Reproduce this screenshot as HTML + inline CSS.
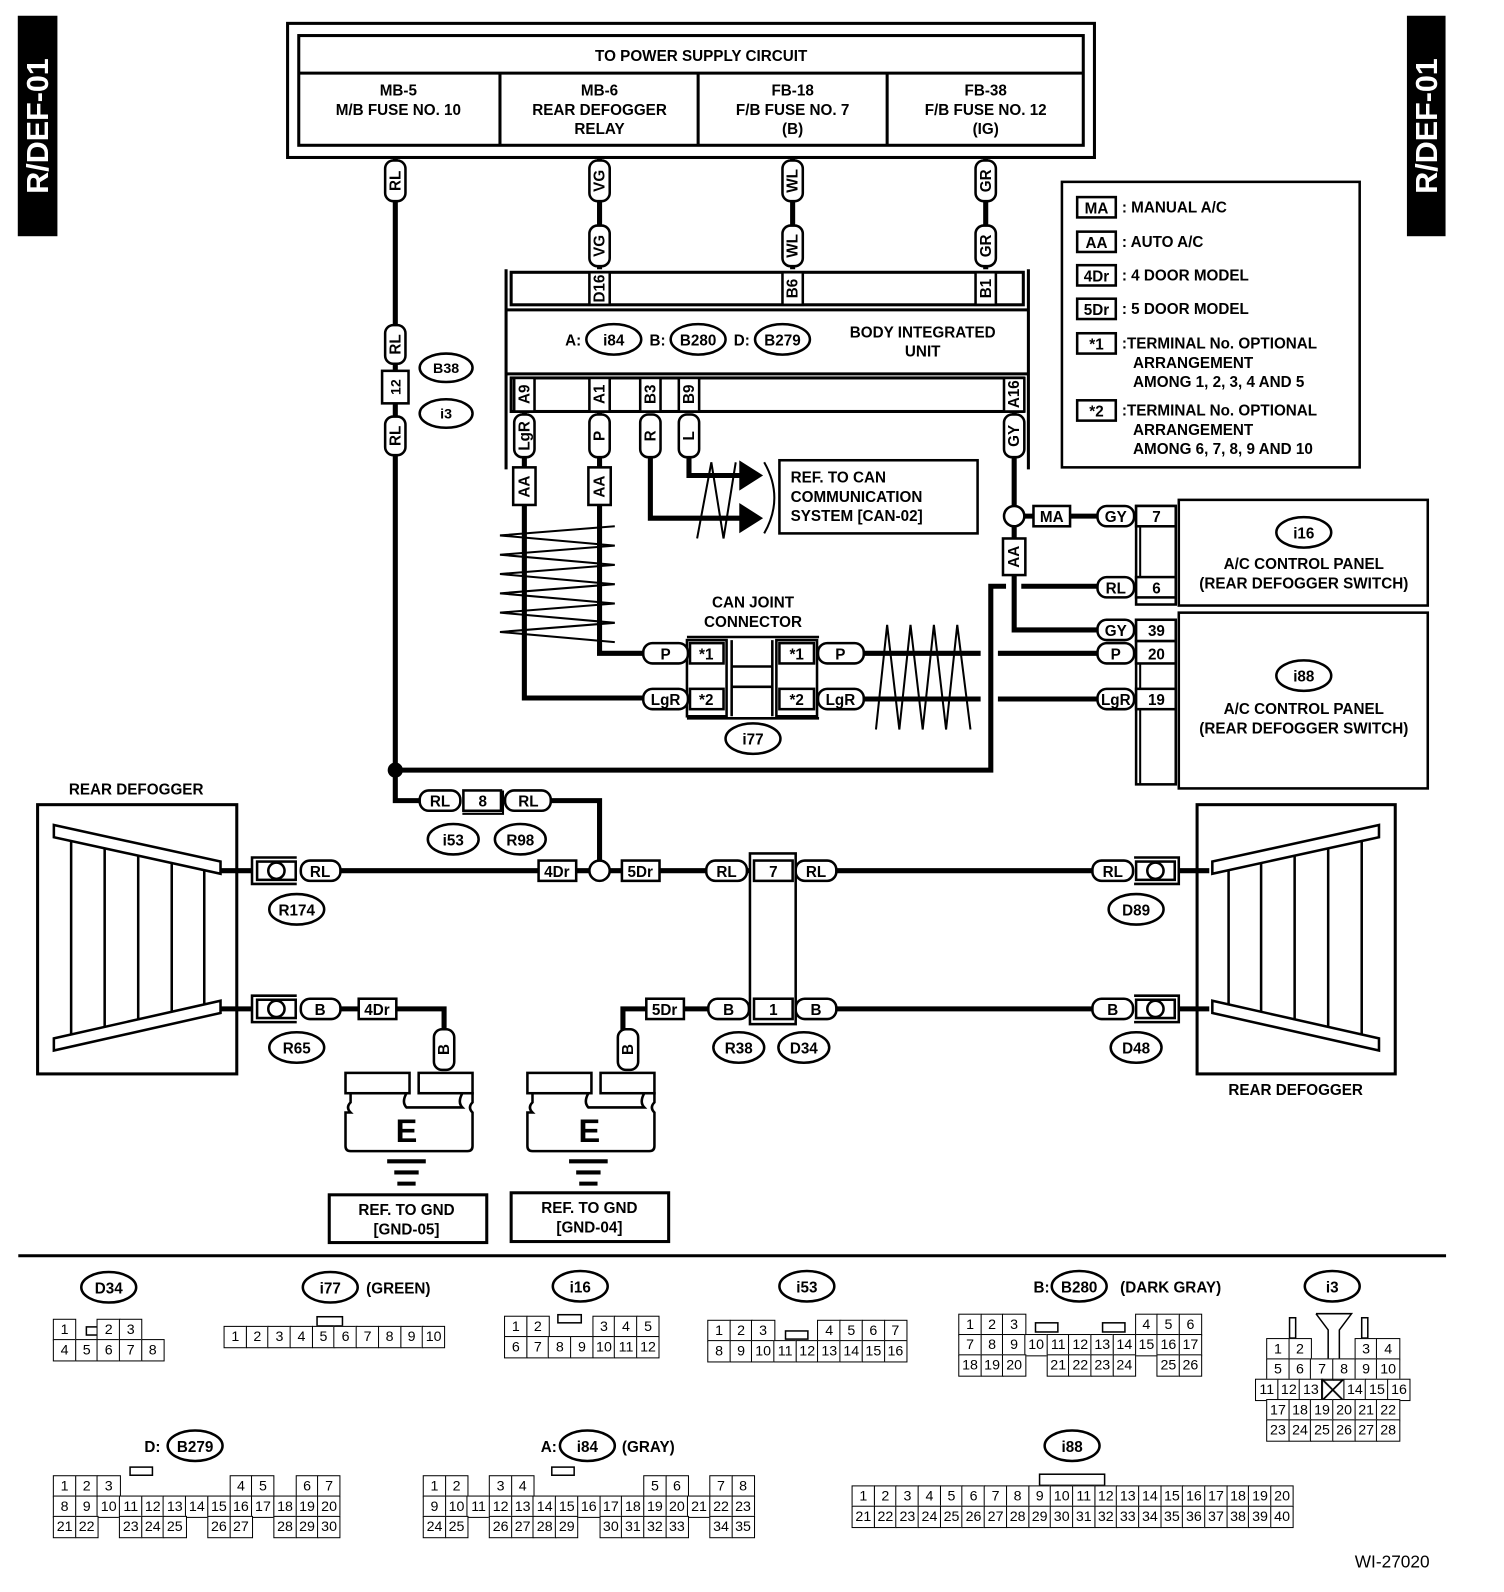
<!DOCTYPE html>
<html><head><meta charset="utf-8">
<style>
html,body{margin:0;padding:0;background:#fff;width:1504px;height:1592px;overflow:hidden}
#w{position:absolute;left:0;top:0;width:1480px;height:1567px;transform:scale(1.0162,1.016);transform-origin:0 0}
svg{position:absolute;left:0;top:0}
svg text{font-family:"Liberation Sans",sans-serif;font-size:15px;font-weight:bold;text-anchor:middle;fill:#000}
svg .s text{text-anchor:start}
.r{position:absolute;display:flex;font-family:"Liberation Sans",sans-serif;font-size:14px}
.r i{font-style:normal;display:block;flex:none;width:23.2px;height:21.5px;border:1.5px solid #000;box-sizing:border-box;margin:0 -1.5px 0 0;text-align:center;line-height:19px;background:#fff}
.r i.g{border-color:transparent;background:none}
</style></head><body><div id="w">
<svg width="1480" height="1567" viewBox="0 0 1480 1567" stroke="#000" fill="none">
<rect x="18" y="16" width="38" height="216" fill="#000"/>
<text transform="translate(47,124) rotate(-90)" style="font-size:30px;fill:#fff" stroke="none">R/DEF-01</text>
<rect x="1385" y="16" width="37" height="216" fill="#000"/>
<text transform="translate(1414,124) rotate(-90)" style="font-size:30px;fill:#fff" stroke="none">R/DEF-01</text>
<rect x="283" y="23" width="794" height="132" stroke-width="3"/>
<rect x="294" y="35" width="772" height="108" stroke-width="3"/>
<path d="M294 72H1066M492 72V143M687 72V143M873 72V143" stroke-width="3"/>
<g stroke="none">
<text x="690" y="60">TO POWER SUPPLY CIRCUIT</text>
<text x="392" y="94">MB-5</text><text x="392" y="113">M/B FUSE NO. 10</text>
<text x="590" y="94">MB-6</text><text x="590" y="113">REAR DEFOGGER</text><text x="590" y="132">RELAY</text>
<text x="780" y="94">FB-18</text><text x="780" y="113">F/B FUSE NO. 7</text><text x="780" y="132">(B)</text>
<text x="970" y="94">FB-38</text><text x="970" y="113">F/B FUSE NO. 12</text><text x="970" y="132">(IG)</text>
</g>
<g stroke-width="5">
<path d="M389 155V788H413M590 155V265M780 155V265M970 155V265"/>
<path d="M516 405V687H633M590 405V643H633M640 448V510H735M678 448V468H735"/>
<path d="M998 405V620H1080M998 508H1080"/>
<path d="M850 643H965M982 643H1080M850 688H965M982 688H1080"/>
<path d="M389 758H975V577H990M1005 577H1080"/>
<path d="M542 788H590V857"/>
<path d="M215 857H248M335 857H1075M1160 857H1190"/>
<path d="M215 993H248M335 993H353M390 993H437V1015M636 993H613V1015M672 993H697M737 993H1075M1160 993H1190"/>
</g>
<circle cx="389" cy="758" r="7" fill="#000"/>
<g fill="#fff" stroke-width="2.5">
<rect x="379" y="158" width="20" height="40" rx="8"/>
<rect x="580" y="158" width="20" height="40" rx="8"/><rect x="580" y="222" width="20" height="40" rx="8"/>
<rect x="770" y="158" width="20" height="40" rx="8"/><rect x="770" y="222" width="20" height="40" rx="8"/>
<rect x="960" y="158" width="20" height="40" rx="8"/><rect x="960" y="222" width="20" height="40" rx="8"/>
<rect x="379" y="320" width="20" height="38" rx="8"/><rect x="379" y="410" width="20" height="38" rx="8"/>
<rect x="506" y="408" width="20" height="42" rx="8"/><rect x="580" y="408" width="20" height="42" rx="8"/>
<rect x="630" y="408" width="20" height="42" rx="8"/><rect x="668" y="408" width="20" height="42" rx="8"/>
<rect x="988" y="408" width="20" height="42" rx="8"/>
<rect x="427" y="1013" width="20" height="40" rx="8"/><rect x="608" y="1013" width="20" height="40" rx="8"/>
</g>
<g stroke="none" style="font-size:14px">
<text transform="translate(394,178) rotate(-90)">RL</text>
<text transform="translate(595,178) rotate(-90)">VG</text><text transform="translate(595,242) rotate(-90)">VG</text>
<text transform="translate(785,178) rotate(-90)">WL</text><text transform="translate(785,242) rotate(-90)">WL</text>
<text transform="translate(975,178) rotate(-90)">GR</text><text transform="translate(975,242) rotate(-90)">GR</text>
<text transform="translate(394,339) rotate(-90)">RL</text><text transform="translate(394,429) rotate(-90)">RL</text>
<text transform="translate(521,429) rotate(-90)">LgR</text><text transform="translate(595,429) rotate(-90)">P</text>
<text transform="translate(645,429) rotate(-90)">R</text><text transform="translate(683,429) rotate(-90)">L</text>
<text transform="translate(1003,429) rotate(-90)">GY</text>
<text transform="translate(442,1033) rotate(-90)">B</text><text transform="translate(623,1033) rotate(-90)">B</text>
</g>
<rect x="376" y="365" width="26" height="32" fill="#fff" stroke-width="2.5"/>
<text transform="translate(394,381) rotate(-90)" stroke="none" style="font-size:14px">12</text>
<ellipse cx="439" cy="362" rx="26" ry="14" stroke-width="2.5"/><text x="439" y="367" stroke="none" style="font-size:14px">B38</text>
<ellipse cx="439" cy="407" rx="26" ry="14" stroke-width="2.5"/><text x="439" y="412" stroke="none" style="font-size:14px">i3</text>
<g stroke-width="3">
<path d="M498 265V462M1012 265V462M498 305H1012M498 368H1012"/>
<rect x="503" y="268" width="504" height="32"/>
<rect x="503" y="372" width="504" height="33"/>
</g>
<g fill="#fff" stroke-width="2.5">
<rect x="580" y="268" width="20" height="32"/><rect x="770" y="268" width="20" height="32"/><rect x="960" y="268" width="20" height="32"/>
<rect x="506" y="372" width="20" height="33"/><rect x="580" y="372" width="20" height="33"/><rect x="630" y="372" width="20" height="33"/>
<rect x="668" y="372" width="20" height="33"/><rect x="988" y="372" width="20" height="33"/>
</g>
<g stroke="none" style="font-size:14px">
<text transform="translate(595,284) rotate(-90)">D16</text><text transform="translate(785,284) rotate(-90)">B6</text><text transform="translate(975,284) rotate(-90)">B1</text>
<text transform="translate(521,388) rotate(-90)">A9</text><text transform="translate(595,388) rotate(-90)">A1</text>
<text transform="translate(645,388) rotate(-90)">B3</text><text transform="translate(683,388) rotate(-90)">B9</text>
<text transform="translate(1003,388) rotate(-90)">A16</text>
<text x="564" y="340">A:</text><text x="647" y="340">B:</text><text x="730" y="340">D:</text>
<text x="908" y="332">BODY INTEGRATED</text><text x="908" y="351">UNIT</text>
<text x="604" y="340">i84</text><text x="687" y="340">B280</text><text x="770" y="340">B279</text>
</g>
<g stroke-width="2.5"><ellipse cx="604" cy="334" rx="27" ry="15"/><ellipse cx="687" cy="334" rx="27" ry="15"/><ellipse cx="770" cy="334" rx="27" ry="15"/></g>
<g fill="#fff" stroke-width="2.5">
<rect x="505" y="460" width="22" height="37"/><rect x="579" y="460" width="22" height="37"/>
<rect x="987" y="530" width="22" height="36"/>
</g>
<g stroke="none" style="font-size:14px">
<text transform="translate(521,479) rotate(-90)">AA</text><text transform="translate(595,479) rotate(-90)">AA</text>
<text transform="translate(1003,548) rotate(-90)">AA</text>
</g>
<circle cx="998" cy="508" r="10" fill="#fff" stroke-width="2.5"/>
<polyline points="605,518 492,527 605,537 492,546 605,556 492,565 605,575 492,584 605,594 492,603 605,613 492,622 605,632" stroke-width="2"/>
<polyline points="862,718 873,615 885,718 896,615 908,718 919,615 931,718 942,615 955,718" stroke-width="2"/>
<polygon points="728,454 750,468 728,482" fill="#000"/><polygon points="728,496 750,510 728,524" fill="#000"/>
<polyline points="686,530 700,455 712,530 724,455" stroke-width="2"/>
<path d="M752 455Q772 490 752 525" stroke-width="2"/>
<rect x="767" y="453" width="195" height="72" stroke-width="2.5"/>
<g stroke="none" class="s"><text x="778" y="475">REF. TO CAN</text><text x="778" y="494">COMMUNICATION</text><text x="778" y="513">SYSTEM [CAN-02]</text></g>
<g stroke="none"><text x="741" y="598">CAN JOINT</text><text x="741" y="617">CONNECTOR</text></g>
<path d="M676 627H806M676 707H806" stroke-width="2.5"/>
<rect x="676" y="630" width="39" height="75" stroke-width="2.5"/>
<rect x="764" y="630" width="40" height="75" stroke-width="2.5"/>
<path d="M720 630V705M760 630V705M720 656H760M720 676H760" stroke-width="2.5"/>
<g fill="#fff" stroke-width="2.5">
<rect x="679" y="633" width="33" height="20"/><rect x="679" y="678" width="33" height="20"/>
<rect x="767" y="633" width="34" height="20"/><rect x="767" y="678" width="34" height="20"/>
<rect x="633" y="633" width="44" height="20" rx="9"/><rect x="633" y="678" width="44" height="20" rx="9"/>
<rect x="805" y="633" width="45" height="20" rx="9"/><rect x="805" y="678" width="45" height="20" rx="9"/>
</g>
<g stroke="none">
<text x="695" y="649">*1</text><text x="695" y="694">*2</text><text x="784" y="649">*1</text><text x="784" y="694">*2</text>
<text x="655" y="649">P</text><text x="655" y="694">LgR</text><text x="827" y="649">P</text><text x="827" y="694">LgR</text>
<text x="741" y="733">i77</text>
</g>
<ellipse cx="741" cy="727" rx="27" ry="15" stroke-width="2.5"/>
<g fill="#fff" stroke-width="2.5">
<rect x="1017" y="498" width="36" height="20"/>
<rect x="1080" y="498" width="36" height="20" rx="9"/><rect x="1080" y="568" width="36" height="20" rx="9"/>
<rect x="1080" y="610" width="36" height="20" rx="9"/><rect x="1080" y="633" width="36" height="20" rx="9"/><rect x="1080" y="678" width="36" height="20" rx="9"/>
<rect x="1118" y="498" width="39" height="97"/><rect x="1118" y="610" width="39" height="162"/>
<rect x="1118" y="498" width="39" height="20"/><rect x="1118" y="568" width="39" height="20"/>
<rect x="1118" y="610" width="39" height="21"/><rect x="1118" y="631" width="39" height="22"/><rect x="1118" y="678" width="39" height="20"/>
</g>
<path d="M1122 518V568M1122 653V678M1122 698V772" stroke-width="2"/>
<rect x="1160" y="492" width="245" height="104" stroke-width="2.5"/>
<rect x="1160" y="603" width="245" height="173" stroke-width="2.5"/>
<g stroke="none">
<text x="1035" y="514">MA</text>
<text x="1098" y="514">GY</text><text x="1098" y="584">RL</text><text x="1098" y="626">GY</text><text x="1098" y="649">P</text><text x="1098" y="694">LgR</text>
<text x="1138" y="514">7</text><text x="1138" y="584">6</text><text x="1138" y="626">39</text><text x="1138" y="649">20</text><text x="1138" y="694">19</text>
<text x="1283" y="530">i16</text><text x="1283" y="560">A/C CONTROL PANEL</text><text x="1283" y="579">(REAR DEFOGGER SWITCH)</text>
<text x="1283" y="671">i88</text><text x="1283" y="703">A/C CONTROL PANEL</text><text x="1283" y="722">(REAR DEFOGGER SWITCH)</text>
</g>
<ellipse cx="1283" cy="524" rx="27" ry="15" stroke-width="2.5"/><ellipse cx="1283" cy="665" rx="27" ry="15" stroke-width="2.5"/>
<rect x="1045" y="179" width="293" height="281" stroke-width="2.5"/>
<g stroke-width="2.5">
<rect x="1060" y="194" width="38" height="20"/><rect x="1060" y="228" width="38" height="20"/><rect x="1060" y="261" width="38" height="20"/>
<rect x="1060" y="294" width="38" height="20"/><rect x="1060" y="328" width="38" height="20"/><rect x="1060" y="394" width="38" height="20"/>
</g>
<g stroke="none">
<text x="1079" y="210">MA</text><text x="1079" y="244">AA</text><text x="1079" y="277">4Dr</text><text x="1079" y="310">5Dr</text><text x="1079" y="344">*1</text><text x="1079" y="410">*2</text>
</g>
<g stroke="none" class="s">
<text x="1104" y="209">: MANUAL A/C</text><text x="1104" y="243">: AUTO A/C</text><text x="1104" y="276">: 4 DOOR MODEL</text><text x="1104" y="309">: 5 DOOR MODEL</text>
<text x="1104" y="343">:TERMINAL No. OPTIONAL</text><text x="1115" y="362">ARRANGEMENT</text><text x="1115" y="381">AMONG 1, 2, 3, 4 AND 5</text>
<text x="1104" y="409">:TERMINAL No. OPTIONAL</text><text x="1115" y="428">ARRANGEMENT</text><text x="1115" y="447">AMONG 6, 7, 8, 9 AND 10</text>
</g>
<g fill="#fff" stroke-width="2.5">
<rect x="413" y="778" width="40" height="20" rx="9"/><rect x="456" y="778" width="37" height="20"/><rect x="497" y="778" width="45" height="20" rx="9"/>
</g>
<path d="M455 801H495V778" stroke-width="2"/>
<g stroke="none"><text x="433" y="794">RL</text><text x="475" y="794">8</text><text x="520" y="794">RL</text>
<text x="446" y="832">i53</text><text x="512" y="832">R98</text></g>
<ellipse cx="446" cy="826" rx="25" ry="15" stroke-width="2.5"/><ellipse cx="512" cy="826" rx="25" ry="15" stroke-width="2.5"/>
<rect x="37" y="792" width="196" height="265" stroke-width="3"/>
<polygon points="53,812 217,848 217,860 53,824" fill="#fff" stroke-width="2.5"/>
<polygon points="53,1022 217,985 217,997 53,1034" fill="#fff" stroke-width="2.5"/>
<path d="M70 828V1019M103 835V1011M136 842V1004M169 849V996M201 856V989" stroke-width="2.5"/>
<rect x="1178" y="792" width="195" height="265" stroke-width="3"/>
<polygon points="1357,812 1193,848 1193,860 1357,824" fill="#fff" stroke-width="2.5"/>
<polygon points="1357,1022 1193,985 1193,997 1357,1034" fill="#fff" stroke-width="2.5"/>
<path d="M1340 828V1019M1307 835V1011M1274 842V1004M1241 849V996M1209 856V989" stroke-width="2.5"/>
<g stroke="none"><text x="134" y="782">REAR DEFOGGER</text><text x="1275" y="1078">REAR DEFOGGER</text></g>
<g stroke-width="2.5">
<path d="M292 844H248V870H292M292 980H248V1006H292M1116 844H1160V870H1116M1116 980H1160V1006H1116"/>
</g>
<g fill="#fff" stroke-width="2.5">
<rect x="253" y="848" width="38" height="18"/><rect x="253" y="984" width="38" height="18"/>
<rect x="1118" y="848" width="38" height="18"/><rect x="1118" y="984" width="38" height="18"/>
<circle cx="272" cy="857" r="8"/><circle cx="272" cy="993" r="8"/><circle cx="1137" cy="857" r="8"/><circle cx="1137" cy="993" r="8"/>
<rect x="296" y="847" width="39" height="20" rx="9"/><rect x="296" y="983" width="39" height="20" rx="9"/>
<rect x="1075" y="847" width="40" height="20" rx="9"/><rect x="1075" y="983" width="40" height="20" rx="9"/>
<rect x="695" y="847" width="40" height="20" rx="9"/><rect x="783" y="847" width="40" height="20" rx="9"/>
<rect x="697" y="983" width="40" height="20" rx="9"/><rect x="783" y="983" width="40" height="20" rx="9"/>
<rect x="530" y="847" width="37" height="20"/><rect x="612" y="847" width="37" height="20"/>
<rect x="353" y="983" width="37" height="20"/><rect x="636" y="983" width="37" height="20"/>
<rect x="738" y="840" width="45" height="168"/>
<rect x="742" y="847" width="38" height="20"/><rect x="742" y="983" width="38" height="20"/>
<circle cx="590" cy="857" r="10"/>
</g>
<g stroke="none">
<text x="315" y="863">RL</text><text x="315" y="999">B</text><text x="1095" y="863">RL</text><text x="1095" y="999">B</text>
<text x="715" y="863">RL</text><text x="803" y="863">RL</text><text x="717" y="999">B</text><text x="803" y="999">B</text>
<text x="548" y="863">4Dr</text><text x="630" y="863">5Dr</text><text x="371" y="999">4Dr</text><text x="654" y="999">5Dr</text>
<text x="761" y="863">7</text><text x="761" y="999">1</text>
<text x="292" y="901">R174</text><text x="1118" y="901">D89</text><text x="292" y="1037">R65</text><text x="727" y="1037">R38</text><text x="791" y="1037">D34</text><text x="1118" y="1037">D48</text>
</g>
<g stroke-width="2.5">
<ellipse cx="292" cy="895" rx="27" ry="15"/><ellipse cx="1118" cy="895" rx="27" ry="15"/><ellipse cx="292" cy="1031" rx="27" ry="15"/>
<ellipse cx="727" cy="1031" rx="25" ry="15"/><ellipse cx="791" cy="1031" rx="25" ry="15"/><ellipse cx="1118" cy="1031" rx="25" ry="15"/>
</g>
<g stroke-width="2.5" fill="#fff">
<path d="M345 1076V1085Q340 1090 345 1095H340V1128Q340 1133 345 1133H460Q465 1133 465 1128V1095Q460 1090 465 1085V1076H455Q450 1085 455 1090H400Q395 1085 400 1076Z"/>
<rect x="340" y="1056" width="63" height="20"/><rect x="412" y="1056" width="53" height="20"/>
<path d="M524 1076V1085Q519 1090 524 1095H519V1128Q519 1133 524 1133H639Q644 1133 644 1128V1095Q639 1090 644 1085V1076H634Q629 1085 634 1090H579Q574 1085 579 1076Z"/>
<rect x="519" y="1056" width="63" height="20"/><rect x="591" y="1056" width="53" height="20"/>
</g>
<path d="M381 1143H419M388 1154H412M391 1165H409M560 1143H598M567 1154H591M570 1165H588" stroke-width="4"/>
<rect x="324" y="1176" width="155" height="47" stroke-width="3"/>
<rect x="503" y="1174" width="155" height="48" stroke-width="3"/>
<g stroke="none">
<text x="400" y="1124" style="font-size:32px">E</text><text x="580" y="1124" style="font-size:32px">E</text>
<text x="400" y="1196">REF. TO GND</text><text x="400" y="1215">[GND-05]</text>
<text x="580" y="1194">REF. TO GND</text><text x="580" y="1213">[GND-04]</text>
</g>
<path d="M18 1236H1423" stroke-width="3"/>
<g stroke-width="2.5">
<ellipse cx="107" cy="1267" rx="27" ry="15"/><ellipse cx="325" cy="1267" rx="27" ry="15"/><ellipse cx="571" cy="1266" rx="27" ry="15"/>
<ellipse cx="794" cy="1266" rx="27" ry="15"/><ellipse cx="1062" cy="1266" rx="27" ry="15"/><ellipse cx="1311" cy="1266" rx="27" ry="15"/>
<ellipse cx="192" cy="1423" rx="27" ry="15"/><ellipse cx="578" cy="1423" rx="27" ry="15"/><ellipse cx="1055" cy="1423" rx="27" ry="15"/>
</g>
<g stroke="none">
<text x="107" y="1273">D34</text><text x="325" y="1273">i77</text><text x="392" y="1273">(GREEN)</text><text x="571" y="1272">i16</text>
<text x="794" y="1272">i53</text><text x="1025" y="1272">B:</text><text x="1062" y="1272">B280</text><text x="1152" y="1272">(DARK GRAY)</text><text x="1311" y="1272">i3</text>
<text x="150" y="1429">D:</text><text x="192" y="1429">B279</text><text x="540" y="1429">A:</text><text x="578" y="1429">i84</text><text x="638" y="1429">(GRAY)</text><text x="1055" y="1429">i88</text>
<text x="1370" y="1543" style="font-size:17px;font-weight:normal">WI-27020</text>
</g>
<g stroke-width="1.5">
<rect x="85" y="1306" width="22" height="8"/><rect x="312" y="1296" width="25" height="9"/><rect x="549" y="1294" width="23" height="8"/>
<rect x="773" y="1310" width="22" height="8"/><rect x="1019" y="1302" width="22" height="9"/><rect x="1085" y="1302" width="22" height="9"/>
<rect x="1269" y="1297" width="6" height="20"/><rect x="1340" y="1297" width="6" height="20"/>
<path d="M1295 1293H1330L1318 1309V1338M1295 1293L1307 1309V1338"/>
<rect x="128" y="1444" width="22" height="8"/><rect x="543" y="1444" width="22" height="8"/><rect x="1023" y="1451" width="64" height="11"/>
</g>
</svg>
<div class="r" style="left:52px;top:1298px"><i>1</i><i class="g"></i><i>2</i><i>3</i></div>
<div class="r" style="left:52px;top:1318px"><i>4</i><i>5</i><i>6</i><i>7</i><i>8</i></div>
<div class="r" style="left:220px;top:1305px"><i>1</i><i>2</i><i>3</i><i>4</i><i>5</i><i>6</i><i>7</i><i>8</i><i>9</i><i>10</i></div>
<div class="r" style="left:496px;top:1295px"><i>1</i><i>2</i><i class="g"></i><i class="g"></i><i>3</i><i>4</i><i>5</i></div>
<div class="r" style="left:496px;top:1315px"><i>6</i><i>7</i><i>8</i><i>9</i><i>10</i><i>11</i><i>12</i></div>
<div class="r" style="left:696px;top:1299px"><i>1</i><i>2</i><i>3</i><i class="g"></i><i class="g"></i><i>4</i><i>5</i><i>6</i><i>7</i></div>
<div class="r" style="left:696px;top:1319px"><i>8</i><i>9</i><i>10</i><i>11</i><i>12</i><i>13</i><i>14</i><i>15</i><i>16</i></div>
<div class="r" style="left:943px;top:1293px"><i>1</i><i>2</i><i>3</i><i class="g"></i><i class="g"></i><i class="g"></i><i class="g"></i><i class="g"></i><i>4</i><i>5</i><i>6</i></div>
<div class="r" style="left:943px;top:1313px"><i>7</i><i>8</i><i>9</i><i>10</i><i>11</i><i>12</i><i>13</i><i>14</i><i>15</i><i>16</i><i>17</i></div>
<div class="r" style="left:943px;top:1333px"><i>18</i><i>19</i><i>20</i><i class="g"></i><i>21</i><i>22</i><i>23</i><i>24</i><i class="g"></i><i>25</i><i>26</i></div>
<div class="r" style="left:1246px;top:1317px"><i>1</i><i>2</i><i class="g"></i><i class="g"></i><i>3</i><i>4</i></div>
<div class="r" style="left:1246px;top:1337px"><i>5</i><i>6</i><i>7</i><i>8</i><i>9</i><i>10</i></div>
<div class="r" style="left:1235px;top:1357px"><i>11</i><i>12</i><i>13</i><i style="background:linear-gradient(45deg,transparent 46%,#000 48%,#000 52%,transparent 54%),linear-gradient(-45deg,transparent 46%,#000 48%,#000 52%,transparent 54%)"></i><i>14</i><i>15</i><i>16</i></div>
<div class="r" style="left:1246px;top:1377px"><i>17</i><i>18</i><i>19</i><i>20</i><i>21</i><i>22</i></div>
<div class="r" style="left:1246px;top:1397px"><i>23</i><i>24</i><i>25</i><i>26</i><i>27</i><i>28</i></div>
<div class="r" style="left:52px;top:1452px"><i>1</i><i>2</i><i>3</i><i class="g"></i><i class="g"></i><i class="g"></i><i class="g"></i><i class="g"></i><i>4</i><i>5</i><i class="g"></i><i>6</i><i>7</i></div>
<div class="r" style="left:52px;top:1472px"><i>8</i><i>9</i><i>10</i><i>11</i><i>12</i><i>13</i><i>14</i><i>15</i><i>16</i><i>17</i><i>18</i><i>19</i><i>20</i></div>
<div class="r" style="left:52px;top:1492px"><i>21</i><i>22</i><i class="g"></i><i>23</i><i>24</i><i>25</i><i class="g"></i><i>26</i><i>27</i><i class="g"></i><i>28</i><i>29</i><i>30</i></div>
<div class="r" style="left:416px;top:1452px"><i>1</i><i>2</i><i class="g"></i><i>3</i><i>4</i><i class="g"></i><i class="g"></i><i class="g"></i><i class="g"></i><i class="g"></i><i>5</i><i>6</i><i class="g"></i><i>7</i><i>8</i></div>
<div class="r" style="left:416px;top:1472px"><i>9</i><i>10</i><i>11</i><i>12</i><i>13</i><i>14</i><i>15</i><i>16</i><i>17</i><i>18</i><i>19</i><i>20</i><i>21</i><i>22</i><i>23</i></div>
<div class="r" style="left:416px;top:1492px"><i>24</i><i>25</i><i class="g"></i><i>26</i><i>27</i><i>28</i><i>29</i><i class="g"></i><i>30</i><i>31</i><i>32</i><i>33</i><i class="g"></i><i>34</i><i>35</i></div>
<div class="r" style="left:838px;top:1462px"><i>1</i><i>2</i><i>3</i><i>4</i><i>5</i><i>6</i><i>7</i><i>8</i><i>9</i><i>10</i><i>11</i><i>12</i><i>13</i><i>14</i><i>15</i><i>16</i><i>17</i><i>18</i><i>19</i><i>20</i></div>
<div class="r" style="left:838px;top:1482px"><i>21</i><i>22</i><i>23</i><i>24</i><i>25</i><i>26</i><i>27</i><i>28</i><i>29</i><i>30</i><i>31</i><i>32</i><i>33</i><i>34</i><i>35</i><i>36</i><i>37</i><i>38</i><i>39</i><i>40</i></div>
</div></body></html>
